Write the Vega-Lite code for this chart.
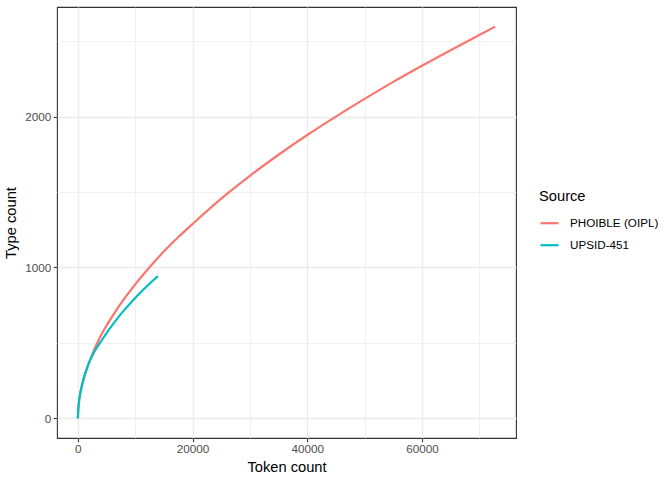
{
  "$schema": "https://vega.github.io/schema/vega-lite/v6.json",
  "width": 459,
  "height": 431,
  "autosize": {"type": "none"},
  "padding": {"left": 57, "top": 7, "right": 156, "bottom": 42},
  "background": "white",
  "config": {
    "view": {"stroke": "#333333", "strokeWidth": 1.1},
    "font": "Liberation Sans"
  },
  "data": {
    "values": [
      {"src": "PHOIBLE (OIPL)", "tokens": 0, "types": 0},
      {"src": "PHOIBLE (OIPL)", "tokens": 50, "types": 45},
      {"src": "PHOIBLE (OIPL)", "tokens": 150, "types": 95},
      {"src": "PHOIBLE (OIPL)", "tokens": 300, "types": 140},
      {"src": "PHOIBLE (OIPL)", "tokens": 600, "types": 200},
      {"src": "PHOIBLE (OIPL)", "tokens": 1000, "types": 262},
      {"src": "PHOIBLE (OIPL)", "tokens": 1500, "types": 322},
      {"src": "PHOIBLE (OIPL)", "tokens": 2000, "types": 375},
      {"src": "PHOIBLE (OIPL)", "tokens": 3000, "types": 468},
      {"src": "PHOIBLE (OIPL)", "tokens": 4000, "types": 548},
      {"src": "PHOIBLE (OIPL)", "tokens": 5000, "types": 615},
      {"src": "PHOIBLE (OIPL)", "tokens": 6000, "types": 676},
      {"src": "PHOIBLE (OIPL)", "tokens": 8000, "types": 788},
      {"src": "PHOIBLE (OIPL)", "tokens": 10000, "types": 888},
      {"src": "PHOIBLE (OIPL)", "tokens": 12500, "types": 1002},
      {"src": "PHOIBLE (OIPL)", "tokens": 15000, "types": 1106},
      {"src": "PHOIBLE (OIPL)", "tokens": 17500, "types": 1200},
      {"src": "PHOIBLE (OIPL)", "tokens": 20000, "types": 1288},
      {"src": "PHOIBLE (OIPL)", "tokens": 25000, "types": 1456},
      {"src": "PHOIBLE (OIPL)", "tokens": 30000, "types": 1607},
      {"src": "PHOIBLE (OIPL)", "tokens": 35000, "types": 1747},
      {"src": "PHOIBLE (OIPL)", "tokens": 40000, "types": 1878},
      {"src": "PHOIBLE (OIPL)", "tokens": 45000, "types": 2000},
      {"src": "PHOIBLE (OIPL)", "tokens": 50000, "types": 2117},
      {"src": "PHOIBLE (OIPL)", "tokens": 55000, "types": 2230},
      {"src": "PHOIBLE (OIPL)", "tokens": 60000, "types": 2337},
      {"src": "PHOIBLE (OIPL)", "tokens": 65000, "types": 2440},
      {"src": "PHOIBLE (OIPL)", "tokens": 70000, "types": 2540},
      {"src": "PHOIBLE (OIPL)", "tokens": 72770, "types": 2596},
      {"src": "UPSID-451", "tokens": 0, "types": 0},
      {"src": "UPSID-451", "tokens": 50, "types": 45},
      {"src": "UPSID-451", "tokens": 150, "types": 95},
      {"src": "UPSID-451", "tokens": 300, "types": 140},
      {"src": "UPSID-451", "tokens": 600, "types": 200},
      {"src": "UPSID-451", "tokens": 1000, "types": 262},
      {"src": "UPSID-451", "tokens": 1500, "types": 322},
      {"src": "UPSID-451", "tokens": 2000, "types": 374},
      {"src": "UPSID-451", "tokens": 3000, "types": 450},
      {"src": "UPSID-451", "tokens": 4000, "types": 508},
      {"src": "UPSID-451", "tokens": 5000, "types": 565},
      {"src": "UPSID-451", "tokens": 6000, "types": 618},
      {"src": "UPSID-451", "tokens": 7000, "types": 668},
      {"src": "UPSID-451", "tokens": 8000, "types": 714},
      {"src": "UPSID-451", "tokens": 9000, "types": 757},
      {"src": "UPSID-451", "tokens": 10000, "types": 798},
      {"src": "UPSID-451", "tokens": 11000, "types": 837},
      {"src": "UPSID-451", "tokens": 12000, "types": 874},
      {"src": "UPSID-451", "tokens": 13000, "types": 910},
      {"src": "UPSID-451", "tokens": 13950, "types": 943}
    ]
  },
  "mark": {"type": "line", "strokeWidth": 2.2, "interpolate": "monotone"},
  "encoding": {
    "x": {
      "field": "tokens",
      "type": "quantitative",
      "title": "Token count",
      "scale": {"domain": [-3639, 76409], "nice": false, "zero": false},
      "axis": {
        "values": [0, 10000, 20000, 30000, 40000, 50000, 60000, 70000],
        "format": "d",
        "labelExpr": "datum.value % 20000 === 0 ? datum.label : ''",
        "labelOverlap": false,
        "labelFlush": false,
        "domain": false,
        "grid": true,
        "gridColor": "#EBEBEB",
        "gridWidth": {"condition": {"test": "datum.value % 20000 === 0", "value": 1.4}, "value": 0.7},
        "tickColor": "#333333",
        "tickOpacity": {"condition": {"test": "datum.value % 20000 === 0", "value": 1}, "value": 0},
        "tickSize": 3.7,
        "tickWidth": 1.1,
        "labelColor": "#4D4D4D",
        "labelFontSize": 11.7,
        "labelPadding": 2,
        "titleFontSize": 14.7,
        "titleColor": "black",
        "titleFontWeight": "normal",
        "titlePadding": 4
      }
    },
    "y": {
      "field": "types",
      "type": "quantitative",
      "title": "Type count",
      "scale": {"domain": [-130, 2726], "nice": false, "zero": false},
      "axis": {
        "values": [0, 500, 1000, 1500, 2000, 2500],
        "format": "d",
        "labelExpr": "datum.value % 1000 === 0 ? datum.label : ''",
        "labelOverlap": false,
        "labelFlush": false,
        "domain": false,
        "grid": true,
        "gridColor": "#EBEBEB",
        "gridWidth": {"condition": {"test": "datum.value % 1000 === 0", "value": 1.4}, "value": 0.7},
        "tickColor": "#333333",
        "tickOpacity": {"condition": {"test": "datum.value % 1000 === 0", "value": 1}, "value": 0},
        "tickSize": 3.7,
        "tickWidth": 1.1,
        "labelColor": "#4D4D4D",
        "labelFontSize": 11.7,
        "labelPadding": 2.5,
        "titleFontSize": 14.7,
        "titleColor": "black",
        "titleFontWeight": "normal",
        "titlePadding": 6
      }
    },
    "color": {
      "field": "src",
      "type": "nominal",
      "title": "Source",
      "scale": {"domain": ["PHOIBLE (OIPL)", "UPSID-451"], "range": ["#F8766D", "#00BFC4"]},
      "legend": {
        "orient": "none",
        "legendX": 482,
        "legendY": 182,
        "symbolType": "stroke",
        "symbolSize": 324,
        "symbolStrokeWidth": 2.2,
        "labelFontSize": 11.7,
        "labelColor": "black",
        "labelOffset": 10,
        "titleFontSize": 14.7,
        "titleFontWeight": "normal",
        "titleColor": "black",
        "titlePadding": 9,
        "rowPadding": 4
      }
    }
  }
}
